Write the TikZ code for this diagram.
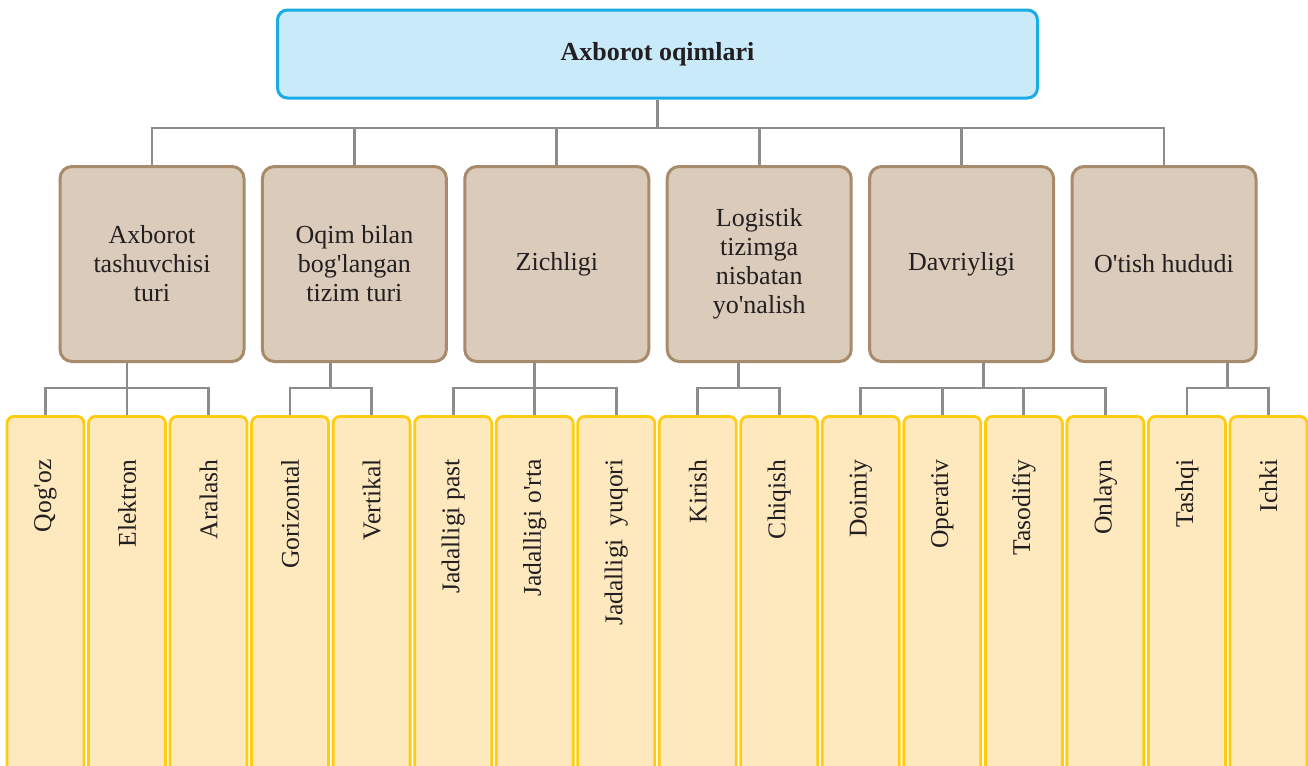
\documentclass[tikz,border=0pt]{standalone}
\usepackage{fontspec}
\setmainfont{Liberation Serif}
\usetikzlibrary{calc}
\definecolor{topfill}{HTML}{C8EAF9}
\definecolor{topdraw}{HTML}{1AACE4}
\definecolor{catfill}{HTML}{DBCBBA}
\definecolor{catdraw}{HTML}{A78B6B}
\definecolor{leaffill}{HTML}{FEE8BE}
\definecolor{leafdraw}{HTML}{FFCC0F}
\definecolor{linkcol}{HTML}{8C8C8C}
\definecolor{txt}{HTML}{231F20}
\newcommand\myq{\textquotesingle}
\begin{document}
\begin{tikzpicture}[x=0.5pt,y=-0.5pt,
 topbox/.style={draw=topdraw, fill=topfill, line width=1.5pt, rounded corners=5pt, minimum width=380pt, minimum height=44pt, inner sep=0pt, font=\fontsize{13}{15}\selectfont\bfseries, text=txt},
 catbox/.style={draw=catdraw, fill=catfill, line width=1.5pt, rounded corners=6pt, minimum width=92pt, minimum height=97.5pt, inner sep=0pt, align=center, font=\fontsize{13}{14.5}\selectfont, text=txt},
 leafbox/.style={draw=leafdraw, fill=leaffill, line width=1.4pt, rounded corners=3.5pt, minimum width=38.5pt, minimum height=190pt, inner sep=0pt, anchor=north},
 leaftext/.style={rotate=90, anchor=east, inner sep=0pt, font=\fontsize{12.8}{15}\selectfont, text=txt},
 link/.style={draw=linkcol, line width=1.4pt}]
\useasboundingbox (0,0) rectangle (1308,766);
\clip (0,0) rectangle (1308,766);

\node[topbox] (top) at (657.5,54) {Axborot oqimlari};

\node[catbox] (c1) at (152,264) {Axborot\\tashuvchisi\\turi};
\node[catbox] (c2) at (354.4,264) {Oqim bilan\\bog\myq langan\\tizim turi};
\node[catbox] (c3) at (556.8,264) {Zichligi};
\node[catbox] (c4) at (759.2,264) {Logistik\\tizimga\\nisbatan\\yo\myq nalish};
\node[catbox] (c5) at (961.6,264) {Davriyligi};
\node[catbox] (c6) at (1164,264) {O\myq tish hududi};

\foreach \t [count=\i] in {Qog\myq oz, Elektron, Aralash, Gorizontal, Vertikal, Jadalligi past, Jadalligi o\myq rta, Jadalligi\ \ yuqori, Kirish, Chiqish, Doimiy, Operativ, Tasodifiy, Onlayn, Tashqi, Ichki} {
  \pgfmathsetmacro\cx{45.5+81.53*(\i-1)}
  \node[leafbox] (l\i) at (\cx,415) {};
  \node[leaftext] (t\i) at (\cx,459) {\t};
}

\coordinate (bar) at (0,128);
\foreach \i in {1,...,6}
  \draw[link] (top.south) -- (top.south |- bar) -| (c\i.north);

\foreach \c/\a/\b in {1/1/3, 2/4/5, 3/6/8, 4/9/10, 5/11/14, 6/15/16} {
  \coordinate (j\c) at ($(l\a.north)!0.5!(l\b.north) + (0,-27)$);
  \draw[link] (c\c.south -| j\c) -- (j\c);
  \foreach \k in {\a,...,\b}
    \draw[link] (j\c) -| (l\k.north);
}
\end{tikzpicture}
\end{document}
